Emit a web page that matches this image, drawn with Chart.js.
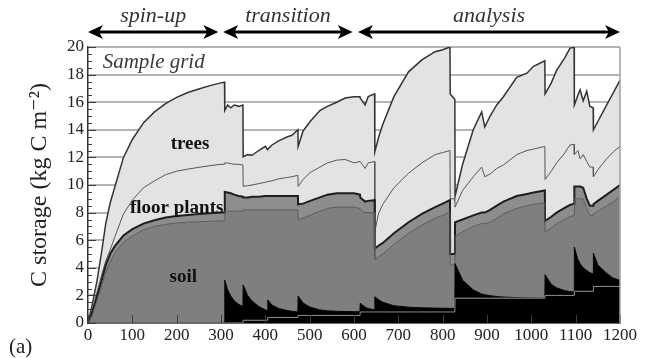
<!DOCTYPE html>
<html>
<head>
<meta charset="utf-8">
<script src="https://cdn.jsdelivr.net/npm/chart.js@4.4.1/dist/chart.umd.min.js"></script>
<style>
  html, body { margin: 0; padding: 0; background: #fff; }
  #wrap { width: 646px; height: 358px; }
</style>
</head>
<body>
<div id="wrap"><canvas id="cChart"></canvas></div>
<script>
// simulation years (duplicated years a fraction apart give the vertical drops)
var years = [0, 10, 20, 30, 40, 50, 60, 80, 100, 125, 150, 175, 200, 225, 250, 275, 300, 308,
  308.5, 315, 322, 330, 340, 349.5,
  350, 360, 370, 385, 400, 405,
  405.5, 415, 430, 450, 460, 473.5,
  474, 485, 501, 523, 540, 561, 580, 600, 613.5,
  614, 625, 632, 646.5,
  647, 655, 665, 690, 723, 753, 783, 800, 816.5,
  817, 827.5,
  828, 845, 869, 888, 895, 907, 922, 937, 967, 990, 1005, 1030.5,
  1031, 1045, 1057, 1075, 1087, 1096.5,
  1097, 1105, 1110, 1117, 1125, 1132, 1139.5,
  1140, 1150, 1170, 1185, 1200];

// upper edge of each pool, kg C m-2 (cumulative, bottom to top)
var baseTop = [0, 0, 0, 0, 0, 0, 0, 0, 0, 0, 0, 0, 0, 0, 0, 0, 0, 0,
  0, 0, 0, 0, 0, 0,
  0.2, 0.2, 0.2, 0.2, 0.2, 0.2,
  0.4, 0.4, 0.4, 0.4, 0.4, 0.4,
  0.55, 0.55, 0.55, 0.55, 0.55, 0.55, 0.55, 0.55, 0.55,
  0.8, 0.8, 0.8, 0.8,
  0.8, 0.8, 0.8, 0.8, 0.8, 0.8, 0.8, 0.8, 0.8,
  0.8, 0.8,
  1.8, 1.8, 1.8, 1.8, 1.8, 1.8, 1.8, 1.8, 1.8, 1.8, 1.8, 1.8,
  2.0, 2.0, 2.0, 2.0, 2.0, 2.0,
  2.3, 2.3, 2.3, 2.3, 2.3, 2.3, 2.3,
  2.65, 2.65, 2.65, 2.65, 2.65];

var debrisTop = [0, 0, 0, 0, 0, 0, 0, 0, 0, 0, 0, 0, 0, 0, 0, 0, 0, 0,
  3.1, 2.4, 1.95, 1.6, 1.35, 1.2,
  2.75, 2.0, 1.6, 1.2, 0.95, 0.9,
  1.67, 1.3, 1.05, 0.9, 0.85, 0.8,
  1.95, 1.45, 1.15, 0.95, 0.88, 0.85, 0.83, 0.82, 0.82,
  1.43, 1.15, 1.05, 0.95,
  1.9, 1.7, 1.5, 1.25, 1.15, 1.1, 1.08, 1.07, 1.06,
  1.06, 1.06,
  4.3, 3.1, 2.4, 2.1, 2.05, 1.98, 1.92, 1.88, 1.84, 1.82, 1.81, 1.8,
  3.5, 2.8, 2.55, 2.35, 2.28, 2.25,
  5.5, 4.6, 4.3, 4.0, 3.8, 3.65, 3.55,
  5.05, 4.2, 3.6, 3.25, 3.1];

var soilTop = [0, 0.6, 1.6, 2.6, 3.7, 4.4, 5.05, 5.85, 6.3, 6.75, 7.0, 7.15, 7.25, 7.3, 7.34, 7.37, 7.4, 7.4,
  8.1, 8.1, 8.1, 8.1, 8.1, 8.1,
  8.2, 8.2, 8.2, 8.2, 8.2, 8.2,
  8.2, 8.2, 8.2, 8.2, 8.2, 8.2,
  7.5, 7.6, 7.8, 8.1, 8.3, 8.4, 8.4, 8.4, 8.3,
  8.2, 8.0, 8.0, 8.0,
  4.6, 4.8, 5.0, 5.7, 6.5, 7.1, 7.6, 7.8, 8.0,
  4.2, 4.2,
  6.3, 6.6, 7.0, 7.2, 7.2, 7.3, 7.6, 7.9, 8.3, 8.5, 8.6, 8.7,
  6.6, 6.9, 7.2, 7.5, 7.7, 7.8,
  9.0, 9.0, 9.0, 9.0, 8.3, 7.8, 7.8,
  7.9, 8.1, 8.5, 8.8, 9.15];

var floorTop = [0, 0.8, 1.9, 3.0, 4.2, 5.0, 5.55, 6.35, 6.8, 7.2, 7.45, 7.65, 7.75, 7.83, 7.9, 7.95, 8.0, 8.0,
  9.5, 9.45, 9.4, 9.3, 9.2, 9.15,
  9.1, 9.1, 9.15, 9.15, 9.2, 9.2,
  9.2, 9.2, 9.2, 9.2, 9.2, 9.2,
  8.6, 8.65, 8.85, 9.1, 9.3, 9.4, 9.4, 9.4, 9.3,
  9.1, 8.8, 8.85, 8.9,
  5.4, 5.6, 5.8, 6.5, 7.3, 7.9, 8.4, 8.65, 8.9,
  5.0, 5.0,
  7.3, 7.5, 7.8, 8.0, 8.0, 8.2, 8.5, 8.8, 9.2, 9.35, 9.45, 9.6,
  7.4, 7.7, 8.0, 8.35, 8.55, 8.65,
  9.9, 9.9, 9.9, 9.8, 9.0, 8.5, 8.5,
  8.6, 8.85, 9.3, 9.65, 10.0];

var stemTop = [0, 1.0, 2.2, 3.4, 4.5, 5.3, 6.2, 7.9, 8.9, 9.8, 10.3, 10.75, 11.0, 11.15, 11.28, 11.4, 11.5, 11.5,
  11.6, 11.6, 11.55, 11.5, 11.5, 11.45,
  9.9, 9.95, 10.0, 10.1, 10.2, 10.25,
  10.25, 10.3, 10.45, 10.55, 10.6, 10.7,
  9.9, 10.4, 10.9, 11.3, 11.6, 11.8, 11.85, 11.6, 11.7,
  11.7, 11.2, 11.6, 11.7,
  6.6, 7.9, 8.6, 9.8, 10.85, 11.6, 12.2, 12.35, 12.5,
  9.0, 9.0,
  8.4, 9.6, 10.6, 11.3, 10.6, 10.8, 11.2, 11.45, 12.2, 12.5, 12.6, 12.8,
  10.4, 11.0, 11.6, 12.3, 12.9, 12.95,
  12.2, 12.5, 11.9, 12.2, 11.7, 11.3, 11.3,
  10.6, 11.1, 11.9, 12.4, 12.8];

var treesTop = [0, 1.4, 3.0, 5.0, 7.2, 8.7, 9.8, 12.0, 13.3, 14.5, 15.3, 15.9, 16.35, 16.7, 16.95, 17.2, 17.4, 17.45,
  15.4, 15.8, 15.6, 15.8, 15.7, 15.8,
  12.05, 12.2, 12.15, 12.5, 12.8, 12.55,
  12.6, 12.9, 13.2, 13.5, 13.6, 14.0,
  12.8, 13.9, 14.6, 15.4, 15.7, 16.0, 16.3, 16.4, 16.4,
  16.3, 15.8, 16.4, 16.6,
  12.4, 13.4, 14.4, 16.4, 18.2, 19.06, 19.66, 19.8, 20.0,
  16.6, 16.2,
  9.2, 11.5, 14.0, 15.3, 14.2, 15.0, 15.8, 16.4, 17.8, 18.1, 18.6, 19.0,
  16.6, 17.4, 18.3, 19.2, 19.9, 20.0,
  15.8, 16.5, 16.9, 16.1, 16.8, 15.7, 15.6,
  14.0, 14.6, 15.8, 16.7, 17.6];

var xTicks = [0, 100, 200, 300, 400, 500, 600, 700, 800, 900, 1000, 1100, 1200];
var yTicks = [0, 2, 4, 6, 8, 10, 12, 14, 16, 18, 20];

var phases = [
  { label: "spin-up", from: 0, to: 294 },
  { label: "transition", from: 305, to: 597 },
  { label: "analysis", from: 609, to: 1200 }
];

var serif = "Liberation Serif, DejaVu Serif, serif";

function series(values) {
  return years.map(function (yr, i) { return { x: yr, y: values[i] }; });
}

function layer(values, fill, bg, line, width) {
  return {
    data: series(values),
    fill: fill,
    backgroundColor: bg,
    borderColor: line,
    borderWidth: width,
    pointRadius: 0,
    tension: 0
  };
}

var decorations = {
  id: "decorations",
  afterDatasetsDraw: function (chart) {
    var ctx = chart.ctx;
    var a = chart.chartArea;
    var x = chart.scales.x;
    var y = chart.scales.y;
    ctx.save();

    // inward ticks on the y axis
    ctx.strokeStyle = "#3c3c3c";
    ctx.lineWidth = 1;
    for (var v = 0; v <= 20; v += 0.5) {
      var py = Math.round(y.getPixelForValue(v)) + 0.5;
      var len = v % 2 === 0 ? 8 : 4;
      ctx.beginPath();
      ctx.moveTo(a.left, py);
      ctx.lineTo(a.left + len, py);
      ctx.stroke();
    }
    // inward ticks on the x axis
    xTicks.forEach(function (t) {
      var px = Math.round(x.getPixelForValue(t)) + 0.5;
      ctx.beginPath();
      ctx.moveTo(px, a.bottom);
      ctx.lineTo(px, a.bottom - 8);
      ctx.stroke();
    });
    // right frame
    ctx.strokeStyle = "#a0a0a0";
    ctx.lineWidth = 1.5;
    ctx.beginPath();
    ctx.moveTo(a.right, a.top);
    ctx.lineTo(a.right, a.bottom);
    ctx.stroke();

    // text inside the plot
    ctx.fillStyle = "#3a3a3a";
    ctx.textBaseline = "alphabetic";
    ctx.textAlign = "left";
    ctx.font = "italic 21px " + serif;
    ctx.fillText("Sample grid", x.getPixelForValue(33), y.getPixelForValue(18.45));

    ctx.fillStyle = "#111";
    ctx.textAlign = "center";
    ctx.font = "bold 19px " + serif;
    ctx.fillText("trees", x.getPixelForValue(230), y.getPixelForValue(12.6));
    ctx.fillText("floor plants", x.getPixelForValue(200), y.getPixelForValue(8.0));
    ctx.fillText("soil", x.getPixelForValue(215), y.getPixelForValue(2.95));
    ctx.restore();
  },
  afterDraw: function (chart) {
    var ctx = chart.ctx;
    var x = chart.scales.x;
    ctx.save();
    var ay = 32;
    ctx.strokeStyle = "#000";
    ctx.fillStyle = "#000";
    ctx.lineWidth = 3;
    phases.forEach(function (p) {
      var x0 = x.getPixelForValue(p.from);
      var x1 = x.getPixelForValue(p.to);
      ctx.beginPath();
      ctx.moveTo(x0 + 8, ay);
      ctx.lineTo(x1 - 8, ay);
      ctx.stroke();
      [[x0, 1], [x1, -1]].forEach(function (h) {
        var tip = h[0], d = h[1];
        ctx.beginPath();
        ctx.moveTo(tip, ay);
        ctx.lineTo(tip + d * 15, ay - 7);
        ctx.lineTo(tip + d * 11, ay);
        ctx.lineTo(tip + d * 15, ay + 7);
        ctx.closePath();
        ctx.fill();
      });
      ctx.font = "italic 22px " + serif;
      ctx.textAlign = "center";
      ctx.textBaseline = "alphabetic";
      ctx.fillStyle = "#333";
      ctx.fillText(p.label, (x0 + x1) / 2, 22);
      ctx.fillStyle = "#000";
    });
    ctx.fillStyle = "#222";
    ctx.textAlign = "left";
    ctx.font = "21px " + serif;
    ctx.fillText("(a)", 9, 353);
    ctx.restore();
  }
};

var ctx = document.getElementById("cChart").getContext("2d");

new Chart(ctx, {
  type: "line",
  data: {
    datasets: [
      layer(baseTop, "origin", "#000", "#8c8c8c", 1),
      layer(debrisTop, "-1", "#000", "#000", 1),
      layer(soilTop, "-1", "#7f7f7f", "#5a5a5a", 1),
      layer(floorTop, "-1", "#8d8d8d", "#1e1e1e", 2),
      layer(stemTop, "-1", "#e3e3e3", "#555", 1),
      layer(treesTop, "-1", "#e3e3e3", "#333", 1.5)
    ]
  },
  options: {
    responsive: true,
    maintainAspectRatio: false,
    animation: false,
    layout: { padding: { left: 21, top: 47, right: 26, bottom: 0 } },
    plugins: {
      legend: { display: false },
      tooltip: { enabled: false },
      filler: { drawTime: "beforeDatasetsDraw" }
    },
    scales: {
      x: {
        type: "linear",
        min: 0,
        max: 1200,
        afterFit: function (s) { s.height = 35; },
        afterBuildTicks: function (s) { s.ticks = xTicks.map(function (v) { return { value: v }; }); },
        ticks: {
          autoSkip: false,
          maxRotation: 0,
          padding: 2,
          color: "#222",
          font: { family: serif, size: 17 },
          callback: function (v) { return String(v); }
        },
        grid: { display: false, drawTicks: false },
        border: { color: "#222", width: 1.5 }
      },
      y: {
        min: 0,
        max: 20,
        afterFit: function (s) { s.width = 67; },
        afterBuildTicks: function (s) { s.ticks = yTicks.map(function (v) { return { value: v }; }); },
        ticks: {
          padding: 4,
          color: "#222",
          font: { family: serif, size: 17 },
          callback: function (v) { return String(v); }
        },
        grid: { color: "#b4b4b4", lineWidth: 2, drawTicks: false },
        border: { color: "#333", width: 1.5 },
        title: {
          display: true,
          text: "C storage (kg C m\u207B\u00B2)",
          color: "#222",
          font: { family: serif, size: 24 }
        }
      }
    }
  },
  plugins: [decorations]
});
</script>
</body>
</html>
